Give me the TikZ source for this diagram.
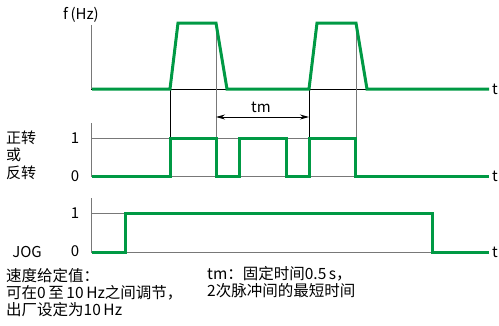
\documentclass[tikz,border=0pt]{standalone}
\usepackage{fontspec}
\setmainfont{Noto Sans CJK SC}
\usetikzlibrary{arrows.meta}
\definecolor{sigGreen}{RGB}{0,153,68}
\definecolor{axGrey}{RGB}{120,120,120}
\tikzset{
  sig/.style={sigGreen, line width=3pt, line join=miter},
  axis/.style={axGrey, line width=1pt},
  guide/.style={black, line width=0.9pt},
  guidegrey/.style={axGrey, line width=1pt},
  lbl/.style={font=\fontsize{15}{17}\selectfont, inner sep=0pt},
  cjk/.style={font=\fontsize{15}{17}\selectfont, inner sep=0pt},
  txt/.style={font=\fontsize{15.5}{17}\selectfont, inner sep=0pt, anchor=north west, align=left},
}
\begin{document}
\begin{tikzpicture}[x=1pt,y=-1pt]
\useasboundingbox (0,0) rectangle (499,325);
% ---- graph 1 axes
\draw[axis] (91,25) -- (91,89);
\draw[black, line width=1pt] (91,89) -- (489,89);
% guides
\draw[guide] (170,89) -- (170,138);
\draw[guide] (309,89) -- (309,138);
\draw[guidegrey] (216,23) -- (216,176);
\draw[guidegrey] (356,23) -- (356,176);
% ---- graph 2 axes
\draw[axis] (91,123) -- (91,176);
\draw[axis] (91,138) -- (356,138);
\draw[axis] (91,176) -- (489,176);
% ---- graph 3 axes
\draw[axis] (91,198) -- (91,252);
\draw[axis] (91,213) -- (432,213);
\draw[axis] (91,252) -- (489,252);
% ---- signals
\draw[sig] (92,89) -- (170,89) -- (178,23) -- (216,23) -- (227,89) -- (309,89) -- (317,23) -- (356,23) -- (367,89) -- (489,89);
\draw[sig] (92,176) -- (170,176) -- (170,138) -- (216,138) -- (216,176) -- (239,176) -- (239,138) -- (286,138) -- (286,176) -- (309,176) -- (309,138) -- (355,138) -- (355,176) -- (489,176);
\draw[sig] (92,252) -- (125,252) -- (125,213) -- (432,213) -- (432,252) -- (489,252);
% ---- tm arrow
\coordinate (tmA) at (216,117);
\coordinate (tmB) at (309,117);
\draw[black, line width=0.9pt, {Stealth[length=9pt,width=5pt]}-{Stealth[length=9pt,width=5pt]}] (tmA) -- (tmB);
\node[lbl] (tm) at (261,107) {tm};
% ---- labels
\node[lbl] (fhz) at (81,15) {f\,(Hz)};
\node[lbl] (t1) at (495,89) {t};
\node[lbl] (t2) at (495,176) {t};
\node[lbl] (t3) at (495,252) {t};
\node[lbl] (one2) at (75,138) {1};
\node[lbl] (zero2) at (75,176) {0};
\node[lbl] (one3) at (75,213) {1};
\node[lbl] (zero3) at (75,251) {0};
\node[cjk, anchor=west] (fz) at (6,138) {正转};
\node[cjk, anchor=west] (huo) at (6,155) {或};
\node[cjk, anchor=west] (fanz) at (6,173) {反转};
\node[lbl] (jog) at (27,252) {JOG};
\node[txt] (note1) at (6,268) {速度给定值：\\可在0\,至\,10\,Hz之间调节，\\出厂设定为10\,Hz};
\node[txt] (note2) at (207,266) {tm：固定时间0.5\,s，\\2次脉冲间的最短时间};
\end{tikzpicture}
\end{document}
